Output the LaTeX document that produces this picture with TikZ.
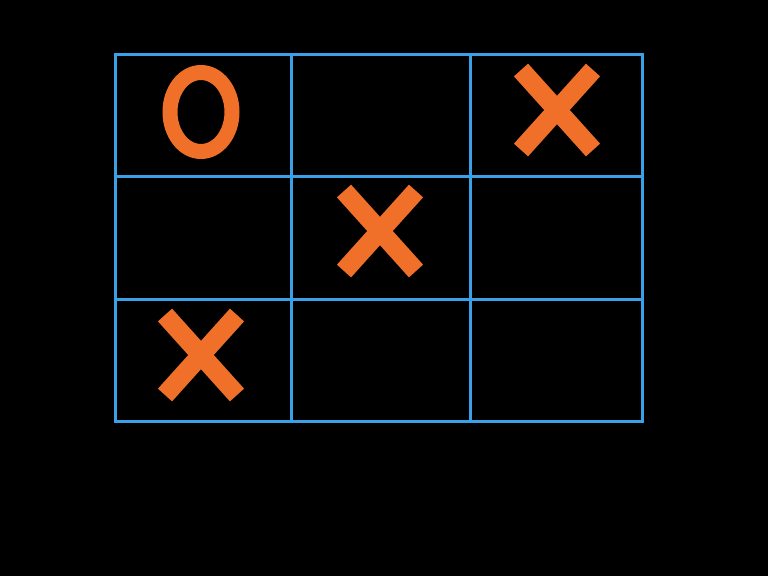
\documentclass[tikz,border=0pt]{standalone}
\definecolor{gridblue}{RGB}{58,160,232}
\definecolor{markorange}{RGB}{240,112,42}
\begin{document}
\begin{tikzpicture}[x=1pt,y=-1pt,
  gridline/.style={draw=gridblue,line width=3pt},
  xmark/.style={draw=markorange,line width=19pt,line cap=butt},
  omark/.style={draw=markorange,line width=15pt}]
\fill[black] (0,0) rectangle (768,576);
\useasboundingbox (0,0) rectangle (768,576);
% grid
\coordinate (tl) at (115,54);
\coordinate (br) at (642,421);
\draw[gridline,line join=miter] (tl) rectangle (br);
\draw[gridline] (291,54) -- (291,421);
\draw[gridline] (470,54) -- (470,421);
\draw[gridline] (115,176) -- (642,176);
\draw[gridline] (115,299) -- (642,299);
% O
\draw[omark] (201,112) ellipse [x radius=31, y radius=39.5];
% X marks
\foreach \cx/\cy in {557/110, 380/231, 201/355}{
  \draw[xmark] (\cx-36,\cy-40) -- (\cx+36,\cy+40);
  \draw[xmark] (\cx+36,\cy-40) -- (\cx-36,\cy+40);
}
\end{tikzpicture}
\end{document}
